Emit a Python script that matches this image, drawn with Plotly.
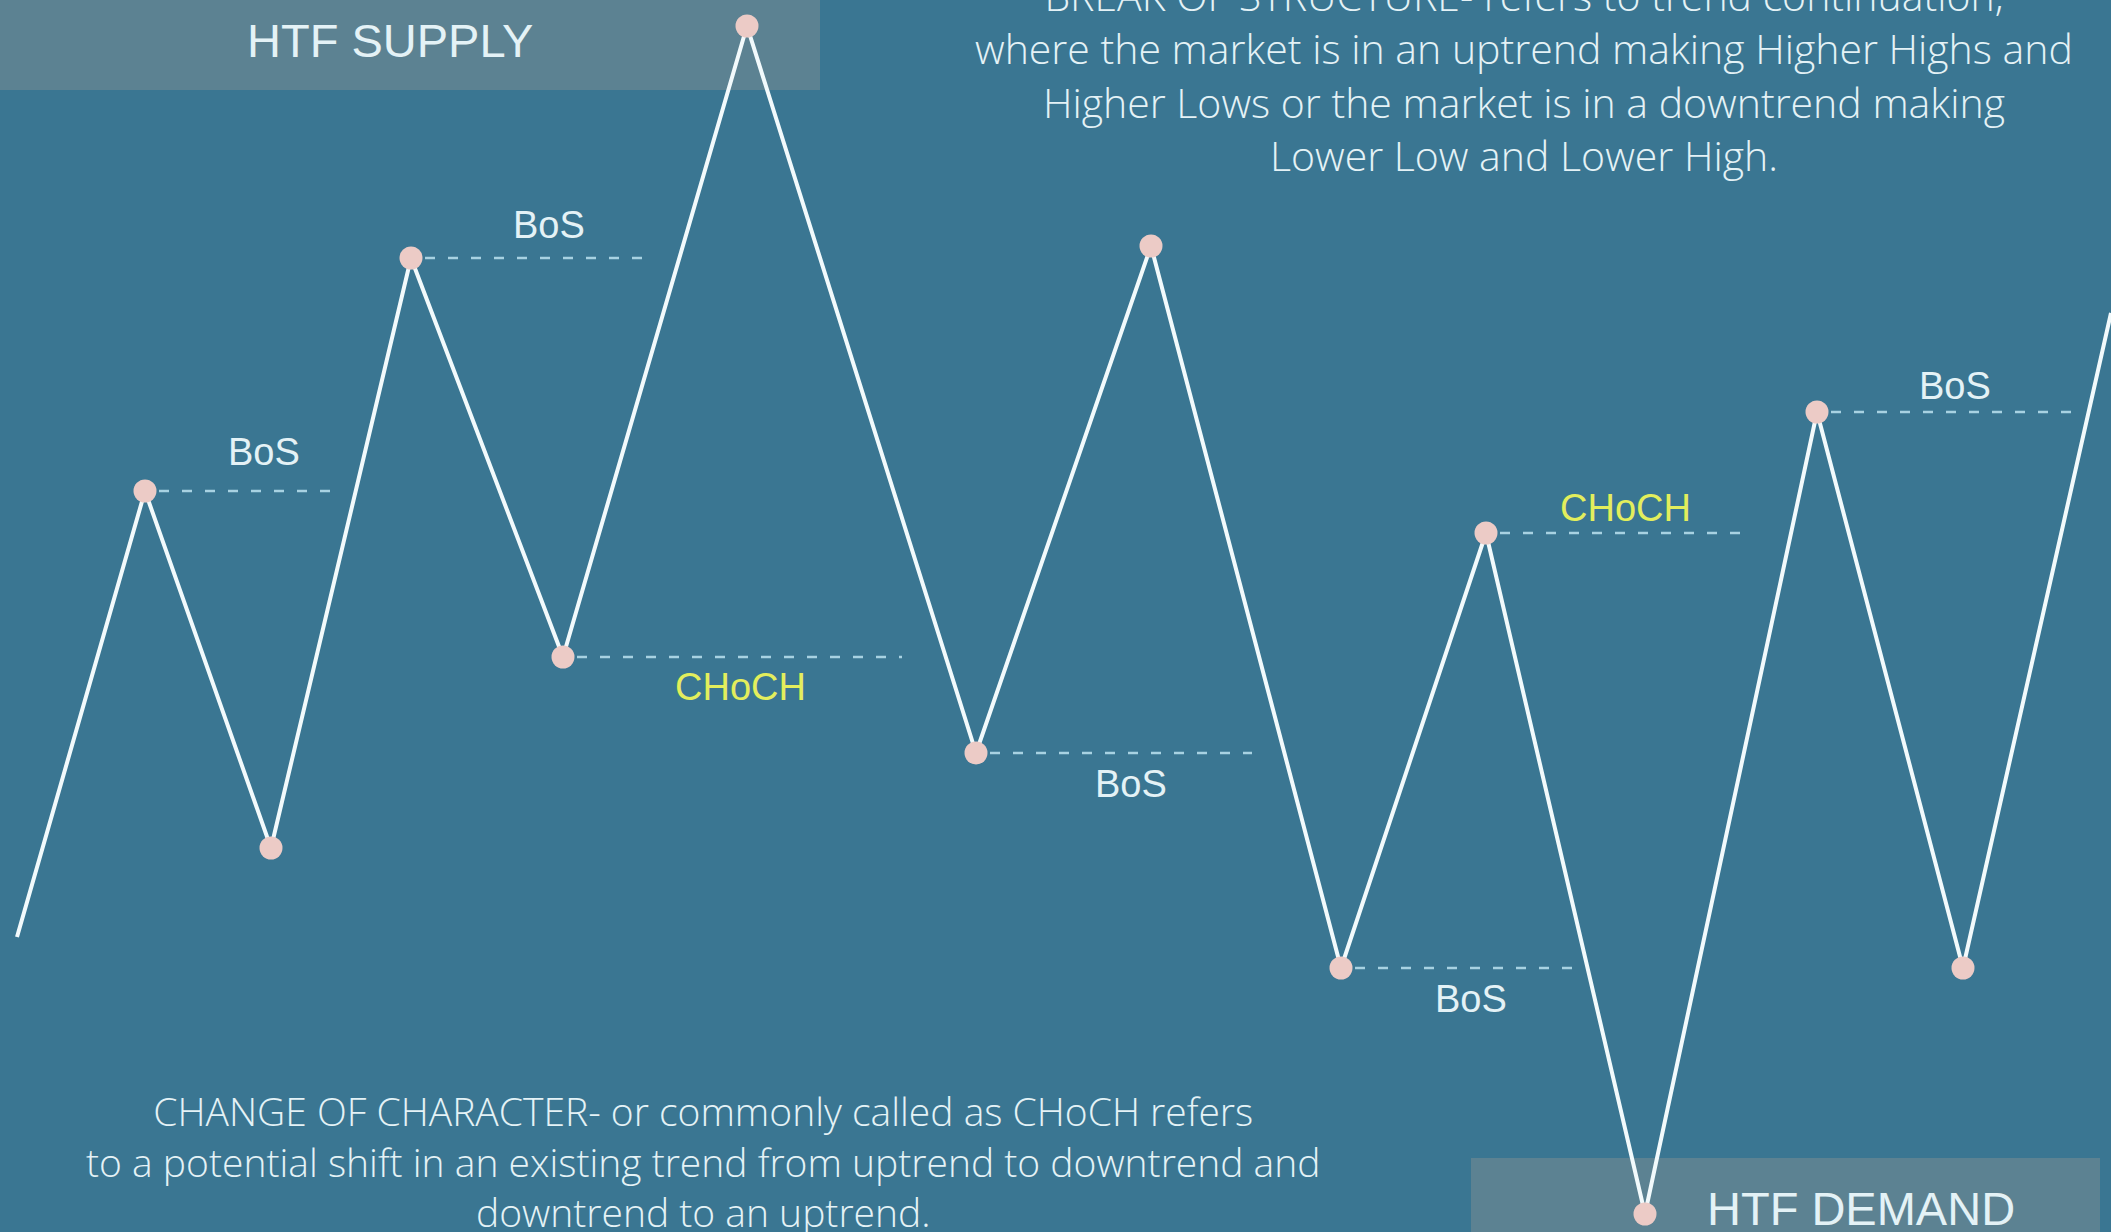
import plotly.graph_objects as go

# ---- data (time units on x, price units on y) ----
swing_time = [1.7, 14.5, 27.1, 41.1, 56.3, 74.7, 97.6, 115.1, 134.1, 148.6, 164.5, 181.7, 196.3, 211.1]
swing_price = [29.5, 74.1, 38.4, 97.4, 57.5, 120.6, 47.9, 98.6, 26.4, 69.9, 1.8, 82.0, 26.4, 91.9]

# index of swing points that get a marker
marker_idx = list(range(1, 13))

# structure levels: start time, end time, price
level_start = [14.5, 41.1, 56.3, 97.6, 134.1, 148.6, 181.7]
level_end = [33.7, 64.6, 90.2, 125.2, 157.5, 175.0, 207.3]
level_price = [74.1, 97.4, 57.5, 47.9, 26.4, 69.9, 82.0]

label_text = ["BoS", "BoS", "CHoCH", "BoS", "BoS", "CHoCH", "BoS"]
label_time = [26.4, 54.9, 74.0, 113.1, 147.1, 162.5, 195.5]
label_price = [78.0, 100.7, 54.5, 44.8, 23.3, 72.4, 84.6]

zone_text = ["HTF SUPPLY", "HTF DEMAND"]
zone_t0 = [0.0, 147.1]
zone_t1 = [82.0, 210.0]
zone_p0 = [114.2, 0.0]
zone_p1 = [123.2, 7.4]

bos_note = ("BREAK OF STRUCTURE- refers to trend continuation,<br>"
            "where the market is in an uptrend making Higher Highs and<br>"
            "Higher Lows or the market is in a downtrend making<br>"
            "Lower Low and Lower High.")
choch_note = ("CHANGE OF CHARACTER- or commonly called as CHoCH refers<br>"
              "to a potential shift in an existing trend from uptrend to downtrend and<br>"
              "downtrend to an uptrend.")

BG = "#3a7692"
BOX = "#5c8292"
LINE = "#f2fafc"
DOT = "#eccbc6"
DASH = "#a8d2e2"
TXT = "#e4f2f6"
YEL = "#e3ee5c"

fig = go.Figure()

# zones
for t0, t1, p0, p1 in zip(zone_t0, zone_t1, zone_p0, zone_p1):
    fig.add_shape(type="rect", x0=t0, x1=t1, y0=p0, y1=p1,
                  fillcolor=BOX, line=dict(width=0), layer="below")

# dashed structure levels
for s, e, p in zip(level_start, level_end, level_price):
    fig.add_trace(go.Scatter(x=[s + 1.4, e], y=[p, p], mode="lines",
                             line=dict(color=DASH, width=2.5, dash="10px,13px"),
                             hoverinfo="skip", showlegend=False))

# price path
fig.add_trace(go.Scatter(x=swing_time, y=swing_price, mode="lines",
                         line=dict(color=LINE, width=4),
                         hoverinfo="skip", showlegend=False))

# swing markers
fig.add_trace(go.Scatter(x=[swing_time[i] for i in marker_idx],
                         y=[swing_price[i] for i in marker_idx],
                         mode="markers",
                         marker=dict(color=DOT, size=23, line=dict(width=0)),
                         hoverinfo="skip", showlegend=False))

# labels
for t, x, p in zip(label_text, label_time, label_price):
    fig.add_annotation(x=x, y=p, text=t, showarrow=False,
                       font=dict(family="Liberation Sans, Arial", size=38,
                                 color=YEL if t == "CHoCH" else TXT))

# zone labels
fig.add_annotation(x=39.0, y=119.2, text=zone_text[0], showarrow=False,
                   font=dict(family="Liberation Sans, Arial", size=47, color=TXT))
fig.add_annotation(x=186.1, y=2.4, text=zone_text[1], showarrow=False,
                   font=dict(family="Liberation Sans, Arial", size=47, color=TXT))

# notes
fig.add_annotation(x=152.4, y=104.7, text=bos_note, showarrow=False,
                   xanchor="center", yanchor="bottom", align="center",
                   font=dict(family="Open Sans", size=41, color=TXT, weight=300))
fig.add_annotation(x=70.3, y=0, yshift=-8, text=choch_note, showarrow=False,
                   xanchor="center", yanchor="bottom", align="center",
                   font=dict(family="Open Sans", size=39, color=TXT, weight=300))

fig.update_layout(
    width=2111, height=1232,
    margin=dict(l=0, r=0, t=0, b=0),
    paper_bgcolor=BG, plot_bgcolor=BG,
    xaxis=dict(range=[0, 211.1], visible=False, fixedrange=True),
    yaxis=dict(range=[0, 123.2], visible=False, fixedrange=True),
    showlegend=False,
)

fig.write_html("out.html",
               config={"displayModeBar": False},
               post_script="document.body.style.margin='0';"
                           "document.body.style.overflow='hidden';")
